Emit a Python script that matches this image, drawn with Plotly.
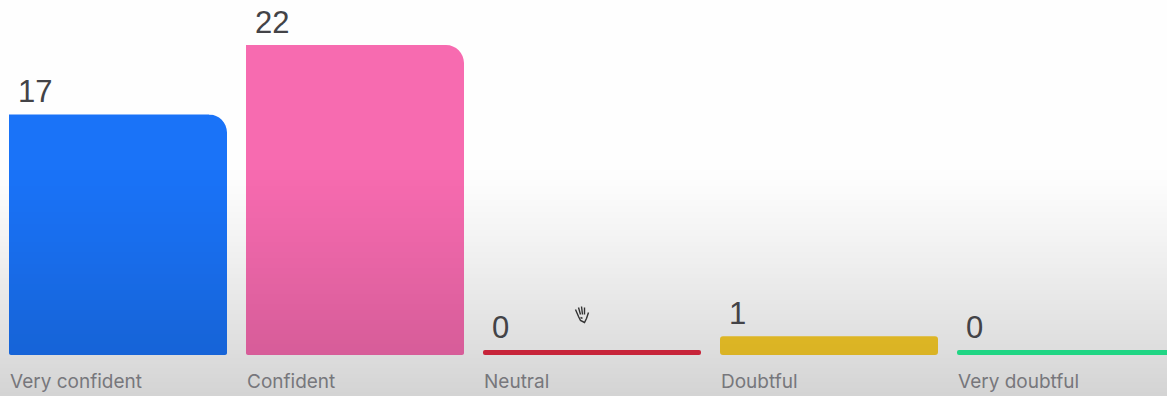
import plotly.graph_objects as go

categories = ["Very confident", "Confident", "Neutral", "Doubtful", "Very doubtful"]
votes = [17, 22, 0, 1, 0]
bar_colors = ["#1a73f8", "#f76bb0", "#e52a43", "#fbce2a", "#25f598"]
corner_radii = [0, 0, 2, 3, 2]

W, H = 1167, 396
PITCH = 237          # px between bar starts
LEFT = 9             # px of first bar start
BAR_W = 218 / PITCH  # bar width in x units
UNIT = 13.86         # px per vote
ZERO_PX = 350        # px row of the zero level
STUB = 5 / UNIT      # every bar keeps a thin foot below zero so empty answers stay visible
BG = "#fefefe"
TALL_TOP_R = 18      # px radius of the top-right corner on tall bars
TALL_SOFT_R = 2      # px radius of their bottom corners

fig = go.Figure()

for i, (v, c, r) in enumerate(zip(votes, bar_colors, corner_radii)):
    fig.add_bar(
        x=[i], y=[v + STUB], base=[-STUB], width=[BAR_W], offset=0,
        marker=dict(color=c, cornerradius=r, line_width=0),
        hoverinfo="skip", showlegend=False,
    )

annotations = []
for i, (cat, v) in enumerate(zip(categories, votes)):
    annotations.append(dict(
        x=i, y=v, xref="x", yref="y", text=str(v), showarrow=False,
        xanchor="left", yanchor="bottom", xshift=8, yshift=4, borderpad=0,
        font=dict(family="Liberation Sans", size=31, color="#434347"),
    ))
    annotations.append(dict(
        x=i, y=0, xref="x", yref="paper", text=cat, showarrow=False,
        xanchor="left", yanchor="bottom", xshift=0, yshift=2, borderpad=0,
        font=dict(family="Inter", size=19, color="#77777c"),
    ))

shapes = []


def corner_mask(x_edge, y_edge, r_px, x_sign, y_sign):
    """Background-coloured cut that rounds one bar corner."""
    rx, ry = r_px / PITCH, r_px / UNIT
    k = 0.45  # control-point pull for a near-circular arc
    ox, oy = x_edge + x_sign / PITCH, y_edge + y_sign / UNIT
    ax, ay = x_edge - x_sign * rx, y_edge
    bx, by = x_edge, y_edge - y_sign * ry
    path = (
        f"M {ox} {oy} L {ax} {oy} L {ax} {ay} "
        f"C {ax + x_sign * rx * (1 - k)} {ay} {bx} {by + y_sign * ry * (1 - k)} {bx} {by} "
        f"L {ox} {by} Z"
    )
    return dict(type="path", path=path, xref="x", yref="y", layer="above",
                fillcolor=BG, line_width=0)


for i, v in enumerate(votes):
    if v > 1:
        shapes.append(corner_mask(i + BAR_W, v, TALL_TOP_R, 1, 1))
        shapes.append(corner_mask(i + BAR_W, -STUB, TALL_SOFT_R, 1, -1))
        shapes.append(corner_mask(i, -STUB, TALL_SOFT_R, -1, -1))

# soft grey wash that darkens the lower part of the whole view, bars included
WASH_TOP, WASH_BOTTOM = 170, H
for py in range(WASH_TOP, WASH_BOTTOM, 2):
    t = (py - WASH_TOP) / (WASH_BOTTOM - WASH_TOP)
    alpha = 0.002 + 0.165 * t ** 1.15
    shapes.append(dict(
        type="rect", layer="above", xref="paper", yref="paper",
        x0=0, x1=1, y0=1 - (py + 2) / H, y1=1 - py / H,
        fillcolor=f"rgba(0,0,0,{alpha:.4f})", line_width=0,
    ))

# small hand-shaped pointer resting above the Neutral bar
cx, cy = 581.5, 314.5


def px(dx, dy):
    return f"{(cx + dx) / W:.5f} {1 - (cy + dy) / H:.5f}"


strokes = [
    [(-6, -5), (-3, 2), (-1, 6), (3, 8), (5, 4), (7, -2)],
    [(-3, -7), (-1, 0)],
    [(0, -8), (1, 0)],
    [(3, -7), (3, 0)],
    [(-1, 3), (1, 4)],
]
for stroke in strokes:
    shapes.append(dict(
        type="path", path="M" + " L".join(px(a, b) for a, b in stroke),
        xref="paper", yref="paper", layer="above",
        line=dict(color="#333333", width=1.4),
    ))

fig.update_layout(
    width=W, height=H,
    margin=dict(l=0, r=0, t=0, b=0),
    paper_bgcolor=BG, plot_bgcolor=BG,
    barmode="overlay",
    xaxis=dict(range=[-LEFT / PITCH, (W - LEFT) / PITCH], visible=False, fixedrange=True),
    yaxis=dict(range=[-(H - ZERO_PX) / UNIT, ZERO_PX / UNIT], visible=False, fixedrange=True),
    annotations=annotations,
    shapes=shapes,
)

fig.write_html("out.html", config=dict(displayModeBar=False))
